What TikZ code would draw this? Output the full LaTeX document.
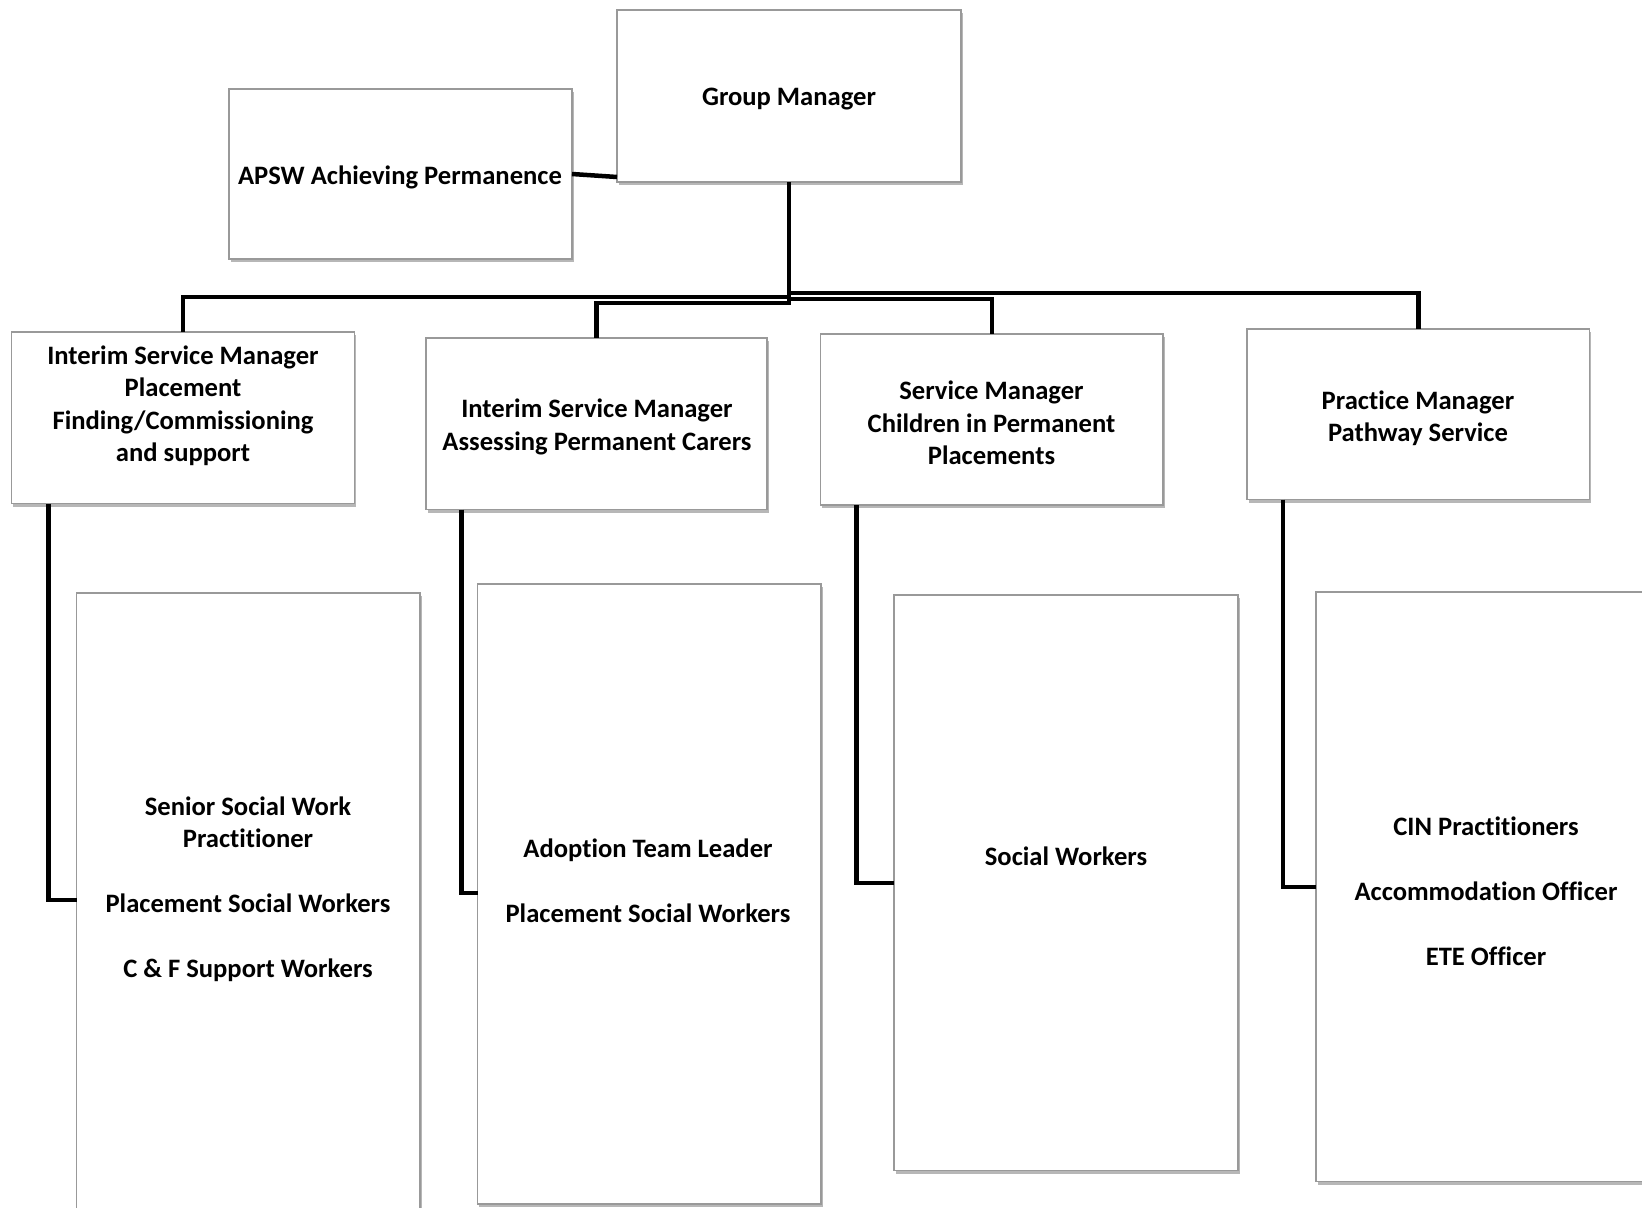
\documentclass[tikz,border=0pt]{standalone}
\usepackage{fontspec}
\setmainfont{Carlito}[Ligatures={NoCommon,NoContextual}]
\usetikzlibrary{shadows}
\begin{document}
\begin{tikzpicture}[x=1pt,y=-1pt,
  box/.style={draw=black!40, line width=1.3pt, fill=white, inner sep=0pt, outer sep=0pt,
    drop shadow={shadow xshift=1.5pt, shadow yshift=-3pt, fill=black!40, opacity=0.7}},
  lbl/.style={align=center, font=\fontsize{26.6}{32.5}\selectfont\bfseries, inner sep=0pt},
  conn/.style={line width=4.5pt, black},
]
\clip (0,0) rectangle (1642,1208);
\fill[white] (0,0) rectangle (1642,1208);
\newcommand\orgbox[5]{\node[box, minimum width={#4-#2}, minimum height={#5-#3}] (#1) at ({(#2+#4)/2},{(#3+#5)/2}) {};}
% boxes
\orgbox{gm}{617}{10}{961}{182}
\orgbox{apsw}{229}{89}{572}{259}
\orgbox{b1}{11.5}{332}{354.5}{503.5}
\orgbox{b2}{426}{338}{767}{509.5}
\orgbox{b3}{820.5}{334}{1163}{505}
\orgbox{b4}{1247}{329}{1589.5}{499.5}
\orgbox{c1}{76.5}{593}{420}{1240}
\orgbox{c2}{477.5}{584}{821}{1204}
\orgbox{c3}{894}{595}{1238}{1170.5}
\orgbox{c4}{1316}{592}{1660}{1181.5}
% texts
\node[lbl] (tgm) at (789,99.5) {Group Manager};
\node[lbl] (tapsw) at (400,177) {APSW Achieving Permanence};
\node[lbl] (tb1) at (183,406) {Interim Service Manager\\Placement\\Finding/Commissioning\\and support};
\node[lbl] (tb2) at (597,427) {Interim Service Manager\\Assessing Permanent Carers};
\node[lbl] (tb3) at (991.5,423) {Service Manager\\Children in Permanent\\Placements};
\node[lbl] (tb4) at (1418,418.5) {Practice Manager\\Pathway Service};
\node[lbl] (tc1) at (248,889) {Senior Social Work\\Practitioner\\[32.5pt]Placement Social Workers\\[32.5pt]C \& F Support Workers};
\node[lbl] (tc2) at (648,881) {Adoption Team Leader\\[32.5pt]Placement Social Workers};
\node[lbl] (tc3) at (1066,856) {Social Workers};
\node[lbl] (tc4) at (1486,891) {CIN Practitioners\\[32.5pt]Accommodation Officer\\[32.5pt]ETE Officer};
% connectors
\draw[conn] (apsw.east) -- ([yshift=5pt]gm.south west);
\draw[conn] (gm.south) |- ([yshift=35pt]b1.north) -- (b1.north);
\draw[conn] (gm.south) |- ([yshift=35pt]b2.north) -- (b2.north);
\draw[conn] (gm.south) |- ([yshift=35pt]b3.north) -- (b3.north);
\draw[conn] (gm.south) |- ([yshift=36pt]b4.north) -- (b4.north);
\coordinate (k1) at (0,900);
\coordinate (k2) at (0,893);
\coordinate (k3) at (0,883);
\coordinate (k4) at (0,887);
\draw[conn] ([xshift=37pt]b1.south west) |- (c1.west |- k1);
\draw[conn] ([xshift=35.5pt]b2.south west) |- (c2.west |- k2);
\draw[conn] ([xshift=36pt]b3.south west) |- (c3.west |- k3);
\draw[conn] ([xshift=36pt]b4.south west) |- (c4.west |- k4);
\end{tikzpicture}
\end{document}
